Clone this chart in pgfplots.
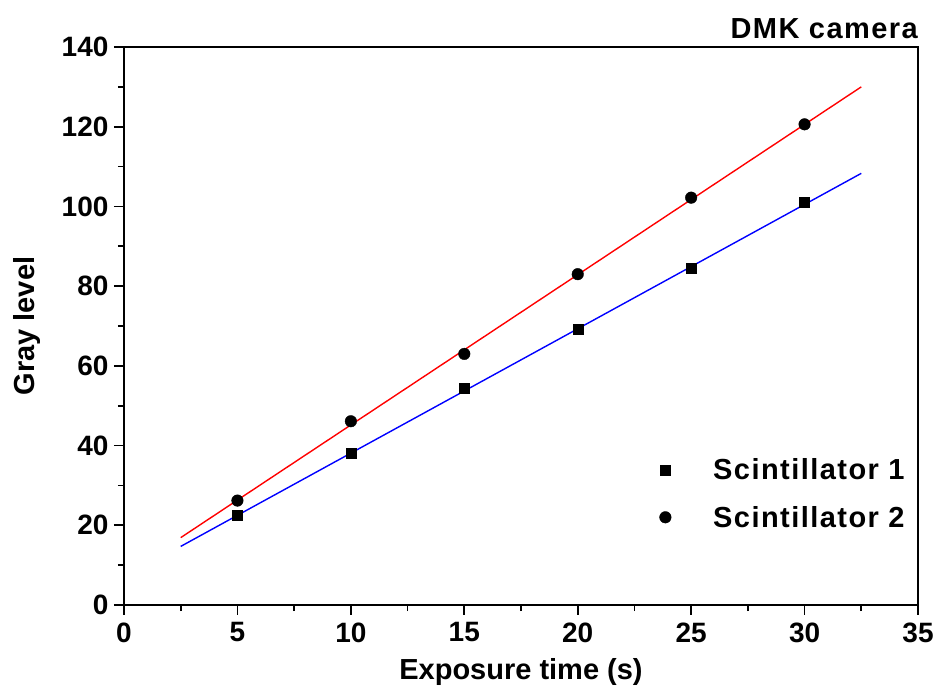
\documentclass[border=0pt]{standalone}
\usepackage{fontspec}
\setmainfont{Liberation Sans}
\newfontfamily\spaced[LetterSpace=5]{Liberation Sans}
\usepackage{pgfplots}
\pgfplotsset{compat=1.18}
\begin{document}
\begin{tikzpicture}[x=1pt,y=1pt]
\useasboundingbox (0,0) rectangle (943,697);
\begin{axis}[
  at={(124pt,92pt)}, anchor=south west,
  scale only axis, width=794pt, height=558pt,
  xmin=0, xmax=35, ymin=0, ymax=140,
  xtick={0,5,...,35}, ytick={0,20,...,140},
  minor x tick num=1, minor y tick num=1,
  xtick pos=bottom, ytick pos=left,
  tick align=outside,
  major tick length=10pt, minor tick length=6pt,
  every tick/.style={black, line width=1.6pt},
  axis line style={line width=1.8pt},
  /pgf/number format/assume math mode=true,
  ticklabel style={font=\fontsize{28}{32}\selectfont\bfseries},
  xticklabel style={yshift=-4pt},
  yticklabel style={xshift=-2pt},
  xlabel={Exposure time (s)}, ylabel={Gray level},
  label style={font=\fontsize{29}{34}\selectfont\bfseries},
  xlabel style={at={(axis description cs:0.5,-0.12)}, anchor=center},
  ylabel style={at={(axis description cs:-0.122,0.5)}, anchor=center},
  legend style={draw=none, fill=none, at={(axis cs:23.6,37.3)}, anchor=north west,
    font=\fontsize{29}{34}\selectfont\bfseries\spaced, row sep=21pt, inner sep=0pt,
    legend cell align=left},
  legend image code/.code={\draw plot coordinates {(0pt,0pt)};},
  clip=false,
]
\addplot[blue, line width=1.4pt, forget plot] coordinates {(2.5,14.7) (32.5,108.3)};
\addplot[red, line width=1.4pt, forget plot] coordinates {(2.5,16.9) (32.5,130.0)};
\addplot[only marks, mark=square*, mark size=5pt, black] coordinates {
(5,22.6) (10,38.1) (15,54.3) (20,69.3) (25,84.5) (30,101.0)};
\addlegendentry{\hspace{40pt}Scintillator 1}
\addplot[only marks, mark=*, mark size=5.8pt, black] coordinates {
(5,26.2) (10,46.1) (15,63.0) (20,83.0) (25,102.2) (30,120.6)};
\addlegendentry{\hspace{40pt}Scintillator 2}
\node[anchor=south east, font=\fontsize{29}{34}\selectfont\bfseries\spaced, inner sep=0pt] at (rel axis cs:1,1) [yshift=8pt] {DMK camera};
\end{axis}
\end{tikzpicture}
\end{document}
